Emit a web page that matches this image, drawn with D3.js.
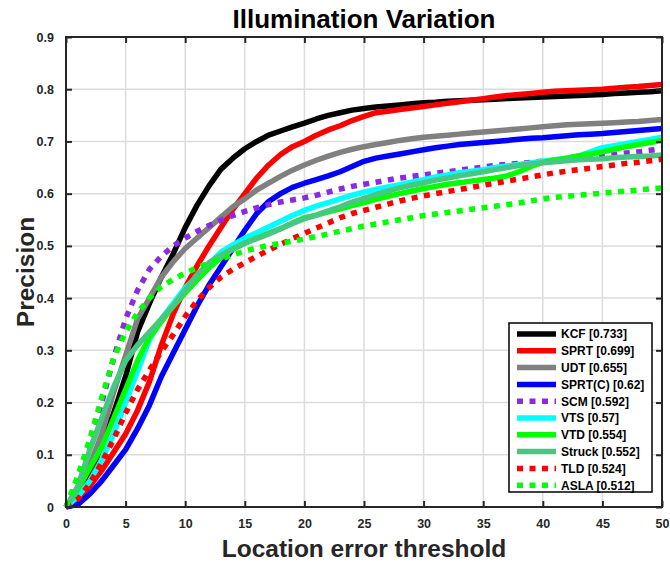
<!DOCTYPE html>
<html>
<head>
<meta charset="utf-8">
<script src="https://cdn.jsdelivr.net/npm/d3@7"></script>
<style>
  html, body { margin: 0; padding: 0; background: #fff; }
  svg { display: block; }
  text { font-family: "Liberation Sans", Arial, Helvetica, sans-serif; }
</style>
</head>
<body>
<svg id="chart" width="670" height="564"></svg>
<script>
// ---- Data ----
const thresholds = d3.range(0, 51);
const xTicks = [0, 5, 10, 15, 20, 25, 30, 35, 40, 45, 50];
const yTicks = [0, 0.1, 0.2, 0.3, 0.4, 0.5, 0.6, 0.7, 0.8, 0.9];
const trackers = ["KCF", "SPRT", "UDT", "SPRT(C)", "SCM", "VTS", "VTD", "Struck", "TLD", "ASLA"];
const scores = [0.733, 0.699, 0.655, 0.62, 0.592, 0.57, 0.554, 0.552, 0.524, 0.512];

const kcf = [0,0.02,0.06,0.12,0.18,0.25,0.335,0.39,0.44,0.485,0.535,0.578,0.615,0.647,0.668,0.686,0.700,0.712,0.720,0.728,0.735,0.743,0.750,0.755,0.760,0.763,0.766,0.768,0.770,0.772,0.774,0.775,0.777,0.778,0.779,0.780,0.781,0.782,0.783,0.784,0.785,0.786,0.787,0.788,0.789,0.790,0.792,0.793,0.794,0.795,0.797];
const sprt = [0,0.01,0.04,0.07,0.105,0.14,0.185,0.24,0.31,0.37,0.42,0.462,0.50,0.535,0.57,0.60,0.63,0.655,0.675,0.69,0.70,0.712,0.722,0.73,0.74,0.748,0.755,0.758,0.761,0.764,0.767,0.770,0.773,0.776,0.779,0.782,0.785,0.788,0.790,0.792,0.794,0.796,0.797,0.798,0.799,0.800,0.802,0.804,0.805,0.807,0.809];
const udt = [0,0.03,0.08,0.14,0.22,0.29,0.36,0.40,0.44,0.47,0.495,0.515,0.535,0.555,0.575,0.59,0.607,0.62,0.633,0.645,0.655,0.664,0.672,0.679,0.685,0.69,0.694,0.698,0.702,0.705,0.708,0.71,0.712,0.714,0.716,0.718,0.72,0.722,0.724,0.726,0.728,0.73,0.732,0.733,0.734,0.735,0.736,0.737,0.738,0.740,0.742];
const sprtc = [0,0.005,0.025,0.05,0.08,0.11,0.15,0.195,0.25,0.295,0.34,0.385,0.425,0.46,0.495,0.53,0.562,0.585,0.60,0.612,0.62,0.627,0.634,0.642,0.652,0.662,0.668,0.672,0.676,0.68,0.684,0.688,0.691,0.694,0.696,0.698,0.70,0.702,0.704,0.706,0.707,0.709,0.711,0.713,0.714,0.715,0.717,0.719,0.721,0.723,0.725];
const scm = [0,0.05,0.115,0.20,0.285,0.36,0.415,0.455,0.48,0.50,0.515,0.528,0.539,0.549,0.558,0.566,0.573,0.579,0.584,0.588,0.592,0.597,0.603,0.609,0.614,0.618,0.622,0.626,0.63,0.633,0.636,0.639,0.642,0.645,0.648,0.651,0.654,0.656,0.658,0.66,0.662,0.664,0.666,0.668,0.67,0.672,0.675,0.678,0.68,0.683,0.686];
const vts = [0,0.02,0.05,0.09,0.14,0.20,0.26,0.32,0.36,0.39,0.42,0.44,0.465,0.488,0.502,0.515,0.525,0.536,0.547,0.558,0.568,0.576,0.583,0.59,0.597,0.603,0.608,0.613,0.617,0.622,0.627,0.632,0.636,0.64,0.643,0.646,0.65,0.653,0.656,0.659,0.662,0.665,0.668,0.672,0.68,0.688,0.692,0.696,0.70,0.704,0.708];
const vtd = [0,0.035,0.075,0.115,0.17,0.225,0.28,0.325,0.355,0.385,0.41,0.435,0.458,0.478,0.494,0.505,0.515,0.524,0.533,0.544,0.554,0.559,0.565,0.571,0.577,0.583,0.589,0.595,0.60,0.605,0.61,0.614,0.618,0.621,0.624,0.627,0.63,0.634,0.642,0.652,0.66,0.664,0.668,0.672,0.676,0.68,0.685,0.69,0.694,0.698,0.702];
const struck = [0,0.04,0.11,0.17,0.23,0.28,0.31,0.335,0.36,0.385,0.415,0.445,0.468,0.482,0.494,0.505,0.514,0.523,0.533,0.543,0.552,0.559,0.567,0.575,0.584,0.591,0.598,0.605,0.611,0.616,0.621,0.626,0.63,0.634,0.638,0.642,0.646,0.65,0.654,0.657,0.659,0.661,0.663,0.665,0.666,0.667,0.669,0.67,0.671,0.672,0.674];
const tld = [0,0.015,0.045,0.085,0.13,0.18,0.225,0.262,0.298,0.33,0.365,0.395,0.42,0.44,0.455,0.468,0.48,0.492,0.503,0.514,0.524,0.534,0.544,0.554,0.562,0.568,0.574,0.58,0.586,0.591,0.596,0.60,0.604,0.608,0.612,0.616,0.62,0.624,0.628,0.632,0.636,0.64,0.643,0.646,0.649,0.652,0.655,0.658,0.66,0.663,0.666];
const asla = [0,0.06,0.13,0.21,0.285,0.335,0.372,0.40,0.422,0.436,0.448,0.458,0.467,0.475,0.483,0.49,0.496,0.501,0.505,0.509,0.513,0.518,0.523,0.528,0.533,0.538,0.542,0.546,0.55,0.554,0.558,0.561,0.564,0.567,0.57,0.573,0.576,0.579,0.582,0.586,0.59,0.593,0.595,0.597,0.599,0.601,0.603,0.605,0.607,0.609,0.611];

const seriesValues = [kcf, sprt, udt, sprtc, scm, vts, vtd, struck, tld, asla];
const colors = ["#000000", "#ff0000", "#808080", "#0000ff", "#8a2be2", "#00ffff", "#00ff00", "#46c882", "#ff0000", "#00ff00"];
const dotted = [false, false, false, false, true, false, false, false, true, true];

// ---- Layout ----
const svg = d3.select("#chart");
const L = 66, R = 662, T = 37, B = 507;
const x = d3.scaleLinear().domain([0, 50]).range([L, R]);
const y = d3.scaleLinear().domain([0, 0.9]).range([B, T]);
const font = '"Liberation Sans", Arial, Helvetica, sans-serif';

svg.append("rect").attr("x", L).attr("y", T).attr("width", R - L).attr("height", B - T).attr("fill", "#fff");

// grid
const grid = svg.append("g");
grid.selectAll(".gx").data(xTicks.slice(1, -1)).join("line")
  .attr("x1", d => x(d)).attr("x2", d => x(d)).attr("y1", T).attr("y2", B)
  .attr("stroke", "#dcdcdc").attr("stroke-width", 1.5);
grid.selectAll(".gy").data(yTicks.slice(1, -1)).join("line")
  .attr("y1", d => y(d)).attr("y2", d => y(d)).attr("x1", L).attr("x2", R)
  .attr("stroke", "#dcdcdc").attr("stroke-width", 1.5);

// curves
const clipId = "plotclip";
svg.append("clipPath").attr("id", clipId).append("rect")
  .attr("x", L - 4).attr("y", T).attr("width", R - L + 4).attr("height", B - T + 4);
const line = d3.line().x((d, i) => x(thresholds[i])).y(d => y(d));
const curves = svg.append("g").attr("clip-path", `url(#${clipId})`);
seriesValues.forEach((vals, i) => {
  curves.append("path").datum(vals)
    .attr("d", line)
    .attr("fill", "none")
    .attr("stroke", colors[i])
    .attr("stroke-width", 5.5)
    .attr("stroke-dasharray", dotted[i] ? "6,6.5" : null)
    .attr("stroke-linejoin", "round")
    .attr("stroke-linecap", "butt");
});

// axes (MATLAB-like box with inward ticks)
const axCol = "#262626";
const xAxisB = d3.axisBottom(x).tickValues(xTicks).tickSize(-6).tickPadding(12).tickFormat(d3.format("d"));
const xAxisT = d3.axisTop(x).tickValues(xTicks).tickSize(-6).tickFormat("");
const yAxisL = d3.axisLeft(y).tickValues(yTicks).tickSize(-6).tickPadding(12).tickFormat(d => d === 0 ? "0" : d3.format(".1f")(d));
const yAxisR = d3.axisRight(y).tickValues(yTicks).tickSize(-6).tickFormat("");

function styleAxis(g) {
  g.select(".domain").remove();
  g.selectAll(".tick line").attr("stroke", axCol).attr("stroke-width", 2);
  g.selectAll(".tick text").attr("fill", axCol).attr("font-size", 12.5).attr("font-weight", "bold").attr("font-family", font);
}
svg.append("g").attr("transform", `translate(0,${B})`).call(xAxisB).call(styleAxis);
svg.append("g").attr("transform", `translate(0,${T})`).call(xAxisT).call(styleAxis);
svg.append("g").attr("transform", `translate(${L},0)`).call(yAxisL).call(styleAxis);
svg.append("g").attr("transform", `translate(${R},0)`).call(yAxisR).call(styleAxis);

svg.append("rect").attr("x", L).attr("y", T).attr("width", R - L).attr("height", B - T)
  .attr("fill", "none").attr("stroke", axCol).attr("stroke-width", 2);

// titles
svg.append("text").attr("x", (L + R) / 2).attr("y", 28).attr("text-anchor", "middle")
  .attr("font-size", 26).attr("font-weight", "bold").attr("fill", "#000").text("Illumination Variation");
svg.append("text").attr("x", (L + R) / 2).attr("y", 557).attr("text-anchor", "middle")
  .attr("font-size", 24.5).attr("font-weight", "bold").attr("fill", axCol).text("Location error threshold");
svg.append("text").attr("transform", `translate(34,${(T + B) / 2}) rotate(-90)`).attr("text-anchor", "middle")
  .attr("font-size", 24.5).attr("font-weight", "bold").attr("fill", axCol).text("Precision");

// legend
const lg = svg.append("g");
const lgX = 509, lgY = 323, lgW = 143, lgH = 169;
lg.append("rect").attr("x", lgX).attr("y", lgY).attr("width", lgW).attr("height", lgH)
  .attr("fill", "#fff").attr("stroke", "#000").attr("stroke-width", 1.5);
const rowH = 16.8;
trackers.forEach((name, i) => {
  const cy = lgY + 11 + i * rowH;
  lg.append("line").attr("x1", 517).attr("x2", 556).attr("y1", cy).attr("y2", cy)
    .attr("stroke", colors[i]).attr("stroke-width", 5.5)
    .attr("stroke-dasharray", dotted[i] ? "6,6.5" : null);
  lg.append("text").attr("x", 561).attr("y", cy + 4.4)
    .attr("font-size", 12).attr("font-weight", "bold").attr("fill", "#000")
    .text(`${name} [${scores[i]}]`);
});
</script>
</body>
</html>
